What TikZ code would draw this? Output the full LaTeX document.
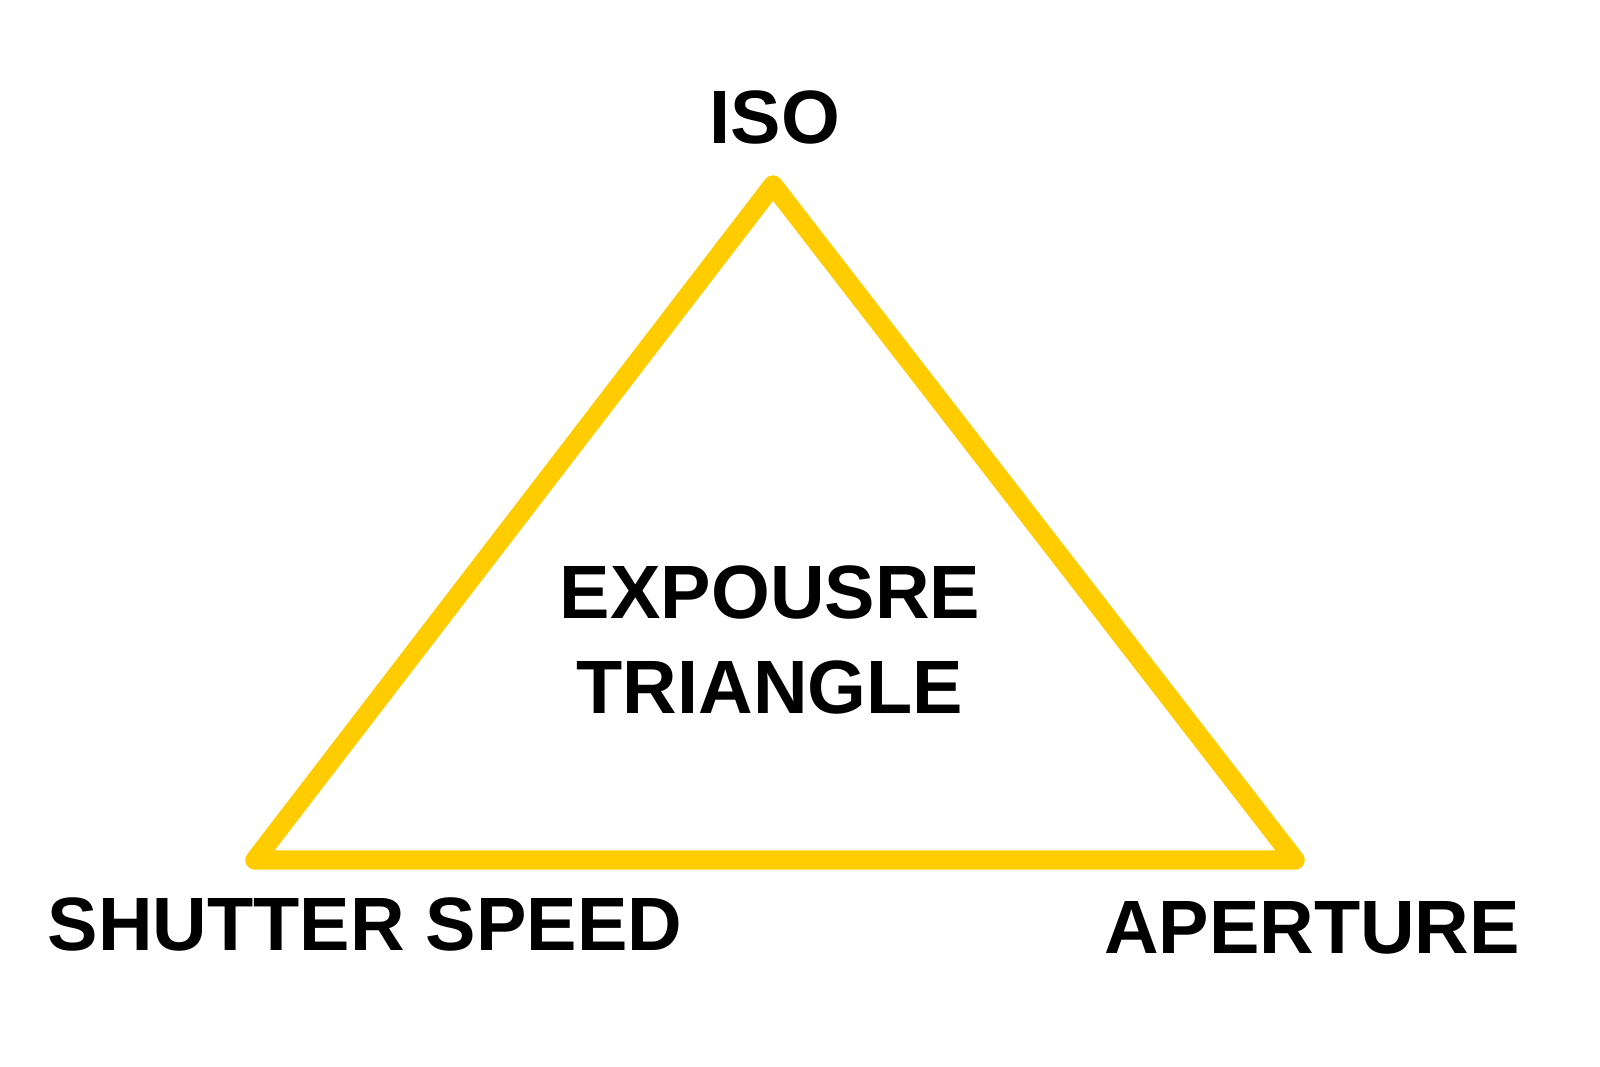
\documentclass[tikz,border=0pt]{standalone}
\usepackage{fontspec}
\setmainfont{Liberation Sans}
\definecolor{tri}{HTML}{FFCC00}
\begin{document}
\begin{tikzpicture}[x=0.01cm,y=-0.01cm,
  lbl/.style={font=\bfseries\fontsize{21.5}{27}\selectfont, inner sep=0pt, align=center}]
\useasboundingbox (0,0) rectangle (1600,1067);
\coordinate (top) at (773,185);
\coordinate (bl) at (255,860);
\coordinate (br) at (1295,860);
\draw[tri, line width=5.5pt, line join=round] (top) -- (bl) -- (br) -- cycle;
\node[lbl] (iso) at (775,117) {ISO};
\node[lbl] (ctr) at (770,640) {EXPOUSRE\\TRIANGLE};
\node[lbl] (ss) at (365,924) {SHUTTER SPEED};
\node[lbl] (ap) at (1312,928) {APERTURE};
\end{tikzpicture}
\end{document}
